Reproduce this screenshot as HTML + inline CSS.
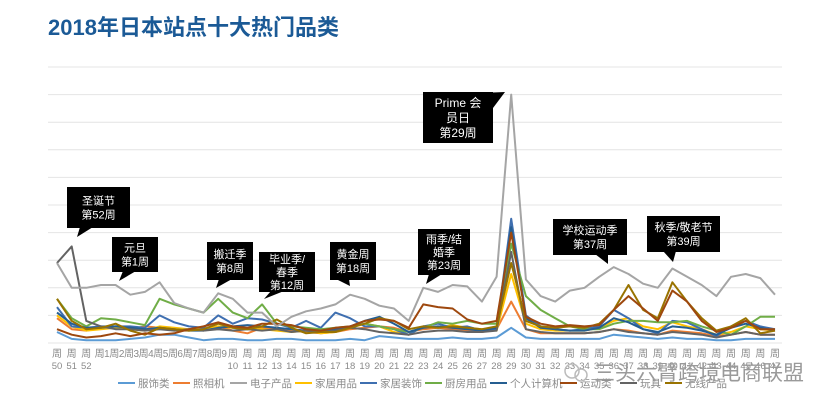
<!DOCTYPE html>
<html><head><meta charset="utf-8">
<style>
body{margin:0;background:#fff;}
#wrap{position:relative;width:823px;height:408px;overflow:hidden;background:#fff;font-family:"Liberation Sans","Noto Sans CJK SC",sans-serif;}
#title{position:absolute;left:48px;top:10px;font-size:22px;font-weight:bold;color:#1b5a96;letter-spacing:0px;}
svg{position:absolute;left:0;top:0;}
</style></head>
<body>
<div id="wrap">
<div id="title">2018年日本站点十大热门品类</div>
<svg id="chart" width="823" height="408"></svg>
</div>
<script>
const weeks=[50,51,52,1,2,3,4,5,6,7,8,9,10,11,12,13,14,15,16,17,18,19,20,21,22,23,24,25,26,27,28,29,30,31,32,33,34,35,36,37,38,39,40,41,42,43,44,45,46,47];
const seriesNames=["服饰类","照相机","电子产品","家居用品","家居装饰","厨房用品","个人计算机","运动类","玩具","无线产品"];
const colors=["#5b9bd5","#ed7d31","#a5a5a5","#ffc000","#3f6fb0","#70ad47","#255e91","#9e480e","#636363","#997300"];
const sFushi=[0.4,0.15,0.1,0.1,0.1,0.15,0.2,0.3,0.3,0.2,0.1,0.15,0.15,0.1,0.1,0.15,0.15,0.1,0.1,0.1,0.15,0.1,0.25,0.2,0.15,0.15,0.15,0.2,0.15,0.15,0.2,0.55,0.2,0.15,0.15,0.15,0.15,0.15,0.3,0.25,0.2,0.15,0.2,0.15,0.15,0.1,0.1,0.15,0.15,0.15];
const sCamera=[0.9,0.5,0.45,0.55,0.6,0.5,0.6,0.55,0.45,0.45,0.5,0.6,0.45,0.35,0.55,0.5,0.45,0.4,0.35,0.4,0.5,0.55,0.6,0.55,0.4,0.5,0.55,0.5,0.45,0.4,0.5,1.5,0.5,0.35,0.35,0.35,0.35,0.4,0.5,0.45,0.35,0.3,0.45,0.4,0.35,0.25,0.3,0.4,0.3,0.3];
const sElec=[2.9,2.0,2.0,2.1,2.1,1.75,1.85,2.2,1.45,1.25,1.1,1.8,1.6,1.1,1.1,0.6,0.95,1.15,1.25,1.4,1.75,1.6,1.35,1.25,0.8,2.0,1.85,2.1,2.05,1.5,2.4,9.0,2.3,1.7,1.5,1.9,2.0,2.4,2.75,2.5,2.15,2.0,2.7,2.4,2.1,1.7,2.4,2.5,2.35,1.75];
const sHome=[1.0,0.6,0.45,0.5,0.55,0.5,0.45,0.6,0.55,0.5,0.5,0.6,0.55,0.5,0.5,0.45,0.4,0.45,0.35,0.4,0.55,0.7,0.6,0.4,0.3,0.6,0.55,0.65,0.55,0.5,0.45,2.5,0.7,0.5,0.45,0.45,0.45,0.55,0.8,0.9,0.6,0.5,0.75,0.6,0.5,0.3,0.4,0.6,0.5,0.45];
const sDecor=[1.3,0.6,0.55,0.6,0.6,0.6,0.55,1.0,0.75,0.6,0.55,1.0,0.7,0.9,0.85,0.7,0.55,0.8,0.55,1.1,0.9,0.6,0.6,0.5,0.3,0.6,0.7,0.55,0.6,0.45,0.5,4.5,1.0,0.6,0.5,0.45,0.5,0.6,1.2,0.9,0.5,0.35,0.8,0.75,0.5,0.25,0.6,0.8,0.6,0.5];
const sKitchen=[1.6,0.9,0.6,0.9,0.85,0.75,0.65,1.6,1.4,1.25,1.1,1.6,1.1,0.9,1.4,0.7,0.6,0.55,0.5,0.55,0.6,0.7,0.6,0.5,0.4,0.55,0.75,0.7,0.8,0.7,0.7,3.6,1.7,1.2,0.9,0.6,0.5,0.5,0.7,0.8,0.8,0.75,0.75,0.8,0.6,0.45,0.3,0.6,0.95,0.95];
const sPC=[1.1,0.7,0.55,0.55,0.6,0.55,0.5,0.55,0.5,0.45,0.45,0.55,0.6,0.65,0.6,0.55,0.5,0.45,0.4,0.5,0.6,0.8,0.95,0.7,0.4,0.55,0.6,0.55,0.5,0.45,0.55,4.2,0.9,0.55,0.5,0.45,0.45,0.55,0.9,0.75,0.5,0.4,0.6,0.55,0.45,0.3,0.55,0.7,0.55,0.45];
const sSport=[0.5,0.3,0.2,0.25,0.35,0.25,0.35,0.3,0.35,0.5,0.6,0.75,0.6,0.55,0.7,0.7,0.65,0.5,0.45,0.55,0.6,0.8,0.85,0.8,0.55,1.4,1.3,1.25,0.85,0.7,0.8,4.0,0.95,0.7,0.6,0.65,0.6,0.65,1.2,1.7,1.25,0.8,1.9,1.5,0.8,0.4,0.55,0.8,0.5,0.5];
const sToy=[2.9,3.5,0.8,0.6,0.5,0.5,0.45,0.5,0.45,0.5,0.45,0.5,0.45,0.5,0.45,0.5,0.4,0.45,0.4,0.45,0.55,0.5,0.4,0.35,0.3,0.4,0.45,0.45,0.4,0.4,0.45,3.3,0.5,0.4,0.35,0.35,0.35,0.4,0.5,0.4,0.35,0.3,0.4,0.35,0.3,0.2,0.3,0.4,0.3,0.3];
const sWireless=[1.6,0.8,0.5,0.55,0.7,0.45,0.3,0.55,0.5,0.45,0.5,0.7,0.55,0.5,0.6,0.85,0.55,0.35,0.4,0.4,0.55,0.7,0.9,0.8,0.5,0.6,0.55,0.6,0.55,0.5,0.6,2.9,0.8,0.6,0.55,0.6,0.55,0.7,1.2,2.1,1.2,0.9,2.2,1.5,0.9,0.45,0.6,0.9,0.35,0.45];
const allSeries=[sFushi,sCamera,sElec,sHome,sDecor,sKitchen,sPC,sSport,sToy,sWireless];
const yTicks=[0,1,2,3,4,5,6,7,8,9,10];

const NS="http://www.w3.org/2000/svg";
const svg=document.getElementById('chart');
const X0=57,X1=775,Y0=343,UNIT=27.6;
function xAt(i){return X0+i*(X1-X0)/(weeks.length-1);}
function yAt(v){return Y0-v*UNIT;}
function mk(tag,attrs,parent){const e=document.createElementNS(NS,tag);for(const k in attrs)e.setAttribute(k,attrs[k]);(parent||svg).appendChild(e);return e;}

yTicks.forEach(t=>{
  const l=mk('line',{x1:48,x2:782,y1:yAt(t),y2:yAt(t),stroke:'#e4e4e4','stroke-width':1});
  
  
});
weeks.forEach((w,i)=>{
  const x=xAt(i);
  if(w>=1&&w<=9){
    const t=mk('text',{x:x+1,y:357,'font-size':10,fill:'#8a8a8a','text-anchor':'middle','letter-spacing':'-0.5'});
    t.textContent='周'+w;
    
    
  } else {
    const t=mk('text',{x:x,y:357,'font-size':10,fill:'#8a8a8a','text-anchor':'middle'});
    t.textContent='周';
    
    
    const t2=mk('text',{x:x,y:369,'font-size':9.5,fill:'#8a8a8a','text-anchor':'middle'});
    t2.textContent=String(w);
    
    
  }
});
const order=[0,1,3,4,5,6,8,9,7,2];
order.forEach(si=>{
  const d=allSeries[si].map((v,i)=>(i?'L':'M')+xAt(i).toFixed(1)+','+yAt(v).toFixed(1)).join(' ');
  const p=mk('path',{d:d,fill:'none',stroke:colors[si],'stroke-width':2,'stroke-linejoin':'round'});
  
  
});
const legX=[118,173,230,295,360,425,490,560,620,665];
seriesNames.forEach((n,i)=>{
  const g=mk('g',{});
  
  
  mk('line',{x1:legX[i],x2:legX[i]+17,y1:383,y2:383,stroke:colors[i],'stroke-width':2},g);
  const t=mk('text',{x:legX[i]+20,y:387,'font-size':10.5,fill:'#8a8a8a'},g);
  t.textContent=n;
});
const notes=[
 {lines:['圣诞节','第52周'],x:67,y:187,w:63,h:41,px:77,py:237,bx:85},
 {lines:['元旦','第1周'],x:112,y:237,w:46,h:35,px:119,py:281,bx:128},
 {lines:['搬迁季','第8周'],x:207,y:242,w:46,h:38,px:216,py:288,bx:224},
 {lines:['毕业季/','春季','第12周'],x:259,y:252,w:56,h:40,px:264,py:299,bx:276},
 {lines:['黄金周','第18周'],x:330,y:242,w:46,h:38,px:350,py:286,bx:341},
 {lines:['雨季/结','婚季','第23周'],x:418,y:229,w:52,h:46,px:426,py:284,bx:434},
 {lines:['学校运动季','第37周'],x:553,y:219,w:74,h:36,px:608,py:264,bx:600},
 {lines:['秋季/敬老节','第39周'],x:647,y:216,w:73,h:36,px:673,py:262,bx:668}
];
notes.forEach(n=>{
  const g=mk('g',{});
  
  
  mk('rect',{x:n.x,y:n.y,width:n.w,height:n.h,fill:'#000'},g);
  mk('polygon',{points:`${n.bx-5},${n.y+n.h-1} ${n.bx+8},${n.y+n.h-1} ${n.px},${n.py}`,fill:'#000'},g);
  const lh=n.lines.length===3?13:14;
  const sy=n.y+n.h/2-(n.lines.length-1)*lh/2+4;
  n.lines.forEach((s,k)=>{
    const t=mk('text',{x:n.x+n.w/2,y:sy+k*lh,'font-size':11,fill:'#fff','text-anchor':'middle'},g);
    t.textContent=s;
  });
});
{
  const g=mk('g',{});
  
  
  mk('rect',{x:423,y:92,width:70,height:51,fill:'#000'},g);
  mk('polygon',{points:'480,93 493,93 493,108 505,92',fill:'#000'},g);
  ['Prime 会','员日','第29周'].forEach((s,k)=>{
    const t=mk('text',{x:458,y:107+k*15,'font-size':12,fill:'#fff','text-anchor':'middle'},g);
    t.textContent=s;
  });
}
{
  const g=mk('g',{});
  
  
  mk('circle',{cx:572,cy:371,r:7,fill:'none',stroke:'#bbb','stroke-width':1.5},g);
  mk('circle',{cx:581,cy:375,r:6,fill:'none',stroke:'#bbb','stroke-width':1.5},g);
  const t=mk('text',{x:594,y:380,'font-size':21,fill:'#9a9a9a'},g);
  t.textContent='三头六臂跨境电商联盟';
}
</script>
</body></html>
